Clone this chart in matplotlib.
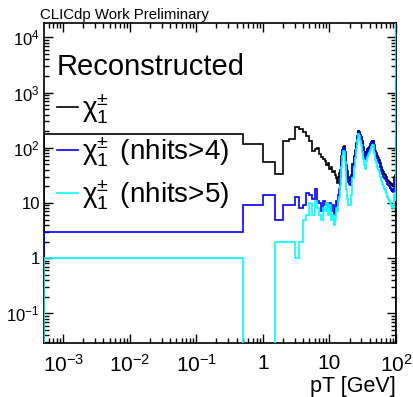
import numpy as np
import matplotlib
matplotlib.use("Agg")
import matplotlib.pyplot as plt
from matplotlib.ticker import LogLocator, NullFormatter, FixedLocator, FixedFormatter

plt.rcParams['font.family'] = ['Liberation Sans', 'DejaVu Sans']
plt.rcParams['mathtext.fontset'] = 'custom'
plt.rcParams['mathtext.rm'] = 'Liberation Sans'
plt.rcParams['mathtext.it'] = 'Liberation Sans:italic'
plt.rcParams['mathtext.bf'] = 'Liberation Sans:bold'

# ---------------- data ----------------
# bin edges in pT [GeV]: 0.5 GeV bins up to 20, 1 GeV up to 40, 2 GeV up to 100
bin_edges = np.concatenate([np.arange(0, 20.01, 0.5),
                            np.arange(21, 40.01, 1.0),
                            np.arange(42, 100.01, 2.0)])

chi_all = [177, 115, 55, 33, 130, 145, 240, 215, 195, 165,
           130, 88, 95, 98, 76, 68, 62, 58, 48, 52,
           42, 45, 37, 38, 32, 28, 23, 30, 35, 40,
           70, 90, 105, 108, 85, 62, 48, 38, 30, 26,
           25, 32, 50, 70, 90, 120, 165, 205, 190, 170,
           155, 130, 105, 85, 75, 80, 85, 95, 98, 105,
           115, 125, 135, 110, 88, 80, 72, 66, 60, 52,
           45, 40, 36, 34, 32, 30, 28, 26, 25, 24,
           22, 23, 21, 20, 22, 20, 24, 30, 28, 32]

chi_nhits4 = [3, 9, 14, 5, 9, 9, 13, 8, 9, 15,
              14, 12, 18, 11, 10, 7, 11, 9, 10, 8,
              10, 7, 9, 6, 8, 11, 9, 14, 18, 30,
              60, 85, 100, 100, 78, 55, 40, 30, 24, 22,
              21, 28, 45, 65, 85, 115, 160, 200, 185, 162,
              145, 118, 92, 72, 62, 68, 75, 85, 90, 98,
              108, 120, 130, 102, 80, 72, 64, 58, 52, 45,
              38, 34, 30, 28, 27, 25, 23, 22, 21, 20,
              18, 19, 17, 16, 18, 16, 20, 25, 22, 27]

chi_nhits5 = [1, 0, 0, 2, 2, 2, 1, 2, 5, 6,
              10, 6, 11, 8, 6, 5, 8, 7, 10, 6,
              9, 5, 6, 4, 5, 8, 7, 11, 13, 20,
              45, 70, 88, 85, 55, 30, 18, 12, 9, 9,
              9, 14, 28, 45, 65, 95, 140, 175, 160, 135,
              110, 85, 62, 48, 42, 50, 58, 68, 75, 82,
              92, 105, 112, 80, 60, 52, 45, 40, 36, 30,
              25, 22, 20, 18, 17, 15, 14, 13, 12, 11,
              10, 10, 9, 8, 9, 8, 10, 14, 11, 15]

# value past the last edge (overflow side); None = no closing edge
end_values = [0, None, 1e5]

labels = [r'$\mathrm{\chi}_1^{\pm}$',
          r'$\mathrm{\chi}_1^{\pm}\,$ (nhits>4)',
          r'$\mathrm{\chi}_1^{\pm}\,$ (nhits>5)']
colors = ['black', '#0000ff', '#00ffff']

x_ticks = [1e-3, 1e-2, 1e-1, 1, 10, 100]
x_ticklabels = [r'$10^{-3}$', r'$10^{-2}$', r'$10^{-1}$', '1', '10', r'$10^{2}$']
y_ticks = [1e-1, 1, 10, 1e2, 1e3, 1e4]
y_ticklabels = [r'$10^{-1}$', '1', '10', r'$10^{2}$', r'$10^{3}$', r'$10^{4}$']

# ---------------- plot ----------------
W, H = 413, 397
fig = plt.figure(figsize=(W / 100, H / 100), dpi=100)
ax = fig.add_axes([44 / W, 1 - 343 / H, 352 / W, 320 / H])
ax.set_xscale('log')
ax.set_yscale('log')
xmin, xmax = 5.1e-4, 100
ymin, ymax = 0.029, 1.82e4
ax.set_xlim(xmin, xmax)
ax.set_ylim(ymin, ymax)

base = 1e-4
handles = []
for vals, col, endv in zip([chi_all, chi_nhits4, chi_nhits5], colors, end_values):
    v = np.asarray(vals, dtype=float)
    v = np.where(v > 0, v, base)
    e = bin_edges.copy()
    e[0] = xmin
    xs = np.repeat(e, 2)
    last = v[-1] if endv is None else (endv if endv > 0 else base)
    ys = np.concatenate([[base], np.repeat(v, 2), [last]])
    ln, = ax.plot(xs, ys, color=col, lw=1.2, zorder=3, clip_on=True,
                  solid_joinstyle='miter')
    handles.append(ln)

for sp in ax.spines.values():
    sp.set_linewidth(1.2)

ax.xaxis.set_major_locator(FixedLocator(x_ticks))
ax.xaxis.set_major_formatter(FixedFormatter(x_ticklabels))
ax.yaxis.set_major_locator(FixedLocator(y_ticks))
ax.yaxis.set_major_formatter(FixedFormatter(y_ticklabels))
ax.xaxis.set_minor_locator(LogLocator(base=10, subs=np.arange(2, 10), numticks=30))
ax.yaxis.set_minor_locator(LogLocator(base=10, subs=np.arange(2, 10), numticks=30))
ax.xaxis.set_minor_formatter(NullFormatter())
ax.yaxis.set_minor_formatter(NullFormatter())

ax.tick_params(which='both', direction='in', top=True, right=True, width=1.0)
ax.tick_params(which='major', length=6.5)
ax.tick_params(which='minor', length=3.3)
ax.tick_params(axis='x', which='major', labelsize=15, pad=8)
ax.tick_params(axis='y', which='major', labelsize=12, pad=3)

ax.text(1.0, -0.102, 'pT [GeV]', transform=ax.transAxes, ha='right', va='top',
        fontsize=15.5)
fig.text(40 / W, 1 - 19 / H, 'CLICdp Work Preliminary', ha='left', va='baseline',
         fontsize=10.8)
ax.text(13 / 352, (343 - 75) / 320, 'Reconstructed', transform=ax.transAxes,
        ha='left', va='baseline', fontsize=21)

ax.legend(handles, labels, loc='upper left', bbox_to_anchor=(13 / 352, (343 - 92) / 320),
          frameon=False, fontsize=20, handlelength=0.75, handletextpad=0.15,
          labelspacing=0.33, borderpad=0, borderaxespad=0)

fig.savefig('out.png', dpi=100)
